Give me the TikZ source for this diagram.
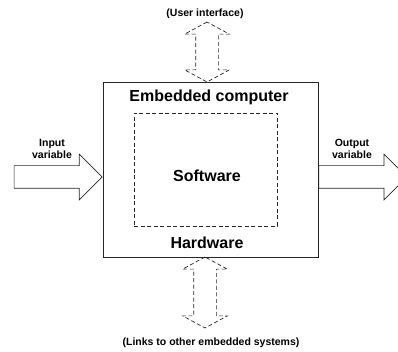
\documentclass[tikz,border=0pt]{standalone}
\usepackage{fontspec}
\setmainfont{Liberation Sans}
\usetikzlibrary{shapes.arrows,positioning}
\tikzset{
    hw/.style = {rectangle,
                fill=none,
                draw=black!85,
                line width=0.8pt,
                minimum width=215pt,
                minimum height=175pt},
    sw/.style = {rectangle,
                fill=none,
                draw=black!85,
                line width=0.7pt,
                dash pattern=on 4pt off 2.5pt,
                minimum width=143pt,
                minimum height=113pt},
    big/.style = {font=\bfseries\fontsize{16}{19}\selectfont,
                inner sep=0pt},
    small/.style = {font=\bfseries\fontsize{10.5}{12}\selectfont,
                align=center,
                inner sep=0pt},
    flow/.style = {single arrow,
                draw=black!85,
                line width=0.7pt,
                inner sep=11pt,
                minimum height=88pt,
                minimum width=45pt,
                single arrow head extend=11.5pt},
    link/.style = {double arrow,
                draw=black!85,
                line width=0.7pt,
                dash pattern=on 4pt off 2.5pt,
                inner sep=11pt,
                shape border rotate=90,
                minimum width=44pt,
                double arrow head extend=11pt,
                double arrow tip angle=123}
}
\begin{document}
\begin{tikzpicture}[x=1pt,y=-1pt]
    \clip (0,0) rectangle (398,352);
    % box and the software inside it
    \node[hw]       (computer) at (210.5,169.5)     {};
    \node[sw]       (software) at (205.5,169.5)     {};
    \node[big]      (title)    at (209,97)          {Embedded computer};
    \node[big]      (soft)     at (207,176)         {Software};
    \node[big]      (hard)     at (207,243)         {Hardware};
    % signals in and out
    \node[flow, anchor=tip]  (in)  at ([yshift=-7.5pt]computer.west) {};
    \node[flow, anchor=tail] (out) at ([yshift=-7.5pt]computer.east) {};
    \node[small]    (inlabel)  at (52,149)          {Input\\variable};
    \node[small]    (outlabel) at (352,149)         {Output\\variable};
    % links up and down
    \node[link, minimum height=60pt] (ui)    at (207,52)    {};
    \node[link, minimum height=71pt] (links) at (205,292.5) {};
    \node[small]    (uilabel)    at (205,14)        {(User interface)};
    \node[small]    (linkslabel) at (211,343)       {(Links to other embedded systems)};
\end{tikzpicture}
\end{document}
